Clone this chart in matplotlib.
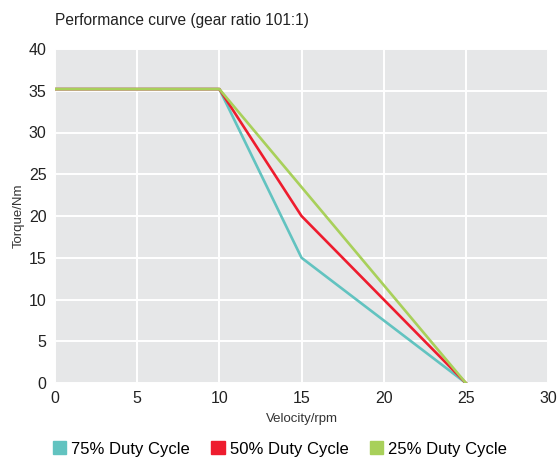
import matplotlib.pyplot as plt
from matplotlib.patches import Patch

plt.rcParams['font.family'] = ['Liberation Sans', 'DejaVu Sans']

velocity = [0, 10, 15, 25]
torque_75 = [35.2, 35.2, 15, 0]
torque_50 = [35.2, 35.2, 20, 0]
velocity_25 = [0, 10, 25]
torque_25 = [35.2, 35.2, 0]

labels = ['75% Duty Cycle', '50% Duty Cycle', '25% Duty Cycle']
colors = ['#62c3c0', '#ee1c2e', '#a8d05a']

fig = plt.figure(figsize=(5.57, 4.57), dpi=100)
ax = fig.add_axes([55 / 557, 1 - 383 / 457, 493 / 557, 334 / 457])
ax.set_facecolor('#e6e7e8')

ax.plot(velocity, torque_75, color=colors[0], lw=1.9, zorder=3)
ax.plot(velocity, torque_50, color=colors[1], lw=1.9, zorder=4)
ax.plot(velocity_25, torque_25, color=colors[2], lw=1.9, zorder=5)

ax.set_xlim(0, 30)
ax.set_ylim(0, 40)
ax.set_xticks(range(0, 31, 5))
ax.set_yticks(range(0, 41, 5))
ax.grid(True, color='white', lw=1.4)
ax.set_axisbelow(True)
for s in ax.spines.values():
    s.set_visible(False)
ax.tick_params(length=0, labelsize=11.5, colors='#222222', pad=6)

ax.set_xlabel('Velocity/rpm', fontsize=9.5, color='#333333', labelpad=5)
ax.set_ylabel('Torque/Nm', fontsize=9.5, color='#333333', labelpad=3)
fig.text(55 / 557, 1 - 20 / 457, 'Performance curve (gear ratio 101:1)', fontsize=11.2,
         color='#222222', va='center', ha='left')

handles = [Patch(color=c) for c in colors]
fig.legend(handles, labels, loc='center', bbox_to_anchor=(280 / 557, 1 - 449 / 457), ncol=3,
           frameon=False, fontsize=12, handlelength=0.8, handleheight=0.8,
           handletextpad=0.3, columnspacing=1.3)

fig.savefig('out.png', dpi=100)
